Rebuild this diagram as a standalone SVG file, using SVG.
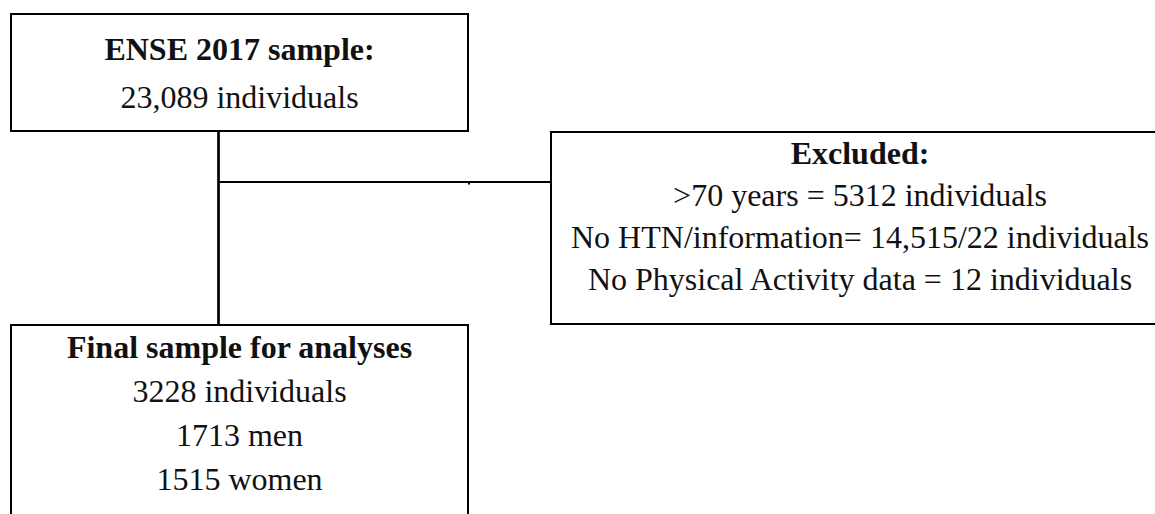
<svg xmlns="http://www.w3.org/2000/svg" width="1155" height="514" viewBox="0 0 1155 514">
<style>
.box{fill:#fff;stroke:#000;stroke-width:2}
.t{font-family:"Liberation Serif","Times New Roman",serif;font-size:32px;fill:#111;text-anchor:middle}
.b{font-weight:bold}
.ln{stroke:#000;fill:none}
</style>
<rect width="1155" height="514" fill="#fff"/>
<g id="connectors">
<line class="ln" x1="218.5" y1="131" x2="218.5" y2="325" stroke-width="2.7"/>
<line class="ln" x1="218.5" y1="182" x2="551" y2="182" stroke-width="2"/>
<rect x="468" y="182" width="2" height="2.5" fill="#000"/>
</g>
<g id="node-ense">
<rect class="box" x="11" y="14" width="457" height="117"/>
<text class="t b" x="239.5" y="60">ENSE 2017 sample:</text>
<text class="t" x="239.5" y="108">23,089 individuals</text>
</g>
<g id="node-excluded">
<rect class="box" x="551" y="132" width="620" height="192"/>
<text class="t b" x="860" y="164">Excluded:</text>
<text class="t" x="860" y="206">&gt;70 years = 5312 individuals</text>
<text class="t" x="860" y="248">No HTN/information= 14,515/22 individuals</text>
<text class="t" x="860" y="290">No Physical Activity data = 12 individuals</text>
</g>
<g id="node-final">
<rect class="box" x="11" y="325" width="457" height="200"/>
<text class="t b" x="239.5" y="358">Final sample for analyses</text>
<text class="t" x="239.5" y="402">3228 individuals</text>
<text class="t" x="239.5" y="446">1713 men</text>
<text class="t" x="239.5" y="490">1515 women</text>
</g>
</svg>
